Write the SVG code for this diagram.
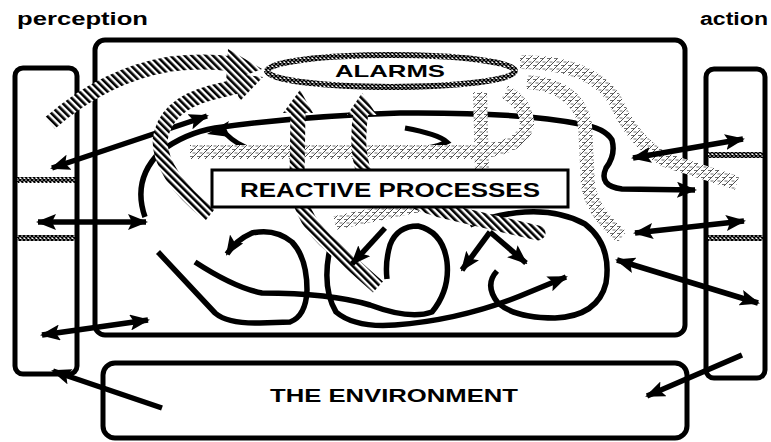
<svg xmlns="http://www.w3.org/2000/svg" width="771" height="442" viewBox="0 0 771 442">
<defs>
<style>
.box{fill:none;stroke:#000;stroke-width:5}
.blk{fill:none;stroke:#000;stroke-width:5.5}
.arr{fill:none;stroke:#000;stroke-width:5.5;marker-end:url(#ah)}
.darr{fill:none;stroke:#000;stroke-width:5.5;marker-start:url(#ah);marker-end:url(#ah)}
.str{fill:none;stroke:url(#stripes);stroke-width:15}
.sth{fill:url(#stripes)}
.hat{fill:none;stroke:url(#hatch);stroke-width:14}
.lbl{font-family:"Liberation Sans",Arial,sans-serif;font-weight:bold;fill:#000}
</style>
<pattern id="stripes" patternUnits="userSpaceOnUse" width="5" height="5" patternTransform="rotate(-45)">
<rect width="5" height="5" fill="#fff"/>
<rect width="2.6" height="5" fill="#000"/>
</pattern>
<pattern id="hatch" patternUnits="userSpaceOnUse" width="7" height="7">
<rect width="7" height="7" fill="#fff"/>
<path d="M0,7 L7,0 M-1,1 L1,-1 M6,8 L8,6" stroke="#222" stroke-width="0.8"/>
<path d="M1,2.5 L4,2.5 M3.5,6 L6.5,6" stroke="#333" stroke-width="0.7"/>
</pattern>
<pattern id="braid" patternUnits="userSpaceOnUse" width="4" height="4">
<rect width="4" height="4" fill="#fff"/>
<path d="M0,0 L4,4 M4,0 L0,4" stroke="#000" stroke-width="1.5"/>
</pattern>
<marker id="ah" viewBox="0 0 20 16" refX="18" refY="8" markerWidth="20" markerHeight="16" markerUnits="userSpaceOnUse" orient="auto-start-reverse">
<path d="M0,0 L20,8 L0,16 L4,8 z" fill="#000"/>
</marker>
</defs>

<text class="lbl" x="17" y="25" font-size="18" textLength="131" lengthAdjust="spacingAndGlyphs">perception</text>
<text class="lbl" x="700" y="25" font-size="18" textLength="68" lengthAdjust="spacingAndGlyphs">action</text>

<g id="perception">
<rect class="box" x="15" y="68" width="62" height="306" rx="8"/>
<rect x="17" y="177" width="58" height="6" fill="url(#braid)"/>
<rect x="17" y="235" width="58" height="6" fill="url(#braid)"/>
</g>
<g id="action">
<rect class="box" x="706" y="69" width="59" height="309" rx="8"/>
<rect x="708" y="152" width="55" height="6" fill="url(#braid)"/>
<rect x="708" y="235" width="55" height="6" fill="url(#braid)"/>
</g>
<g id="agent">
<rect class="box" x="95" y="40" width="590" height="295" rx="10"/>
</g>
<g id="environment">
<rect class="box" x="103" y="363" width="584" height="75" rx="12"/>
<text class="lbl" x="270" y="402" font-size="18" textLength="248" lengthAdjust="spacingAndGlyphs">THE ENVIRONMENT</text>
</g>

<g id="connectors">
<path class="blk" d="M145,217 Q132,180 160,152 Q185,133 215,128 Q300,116 400,113 Q520,112 580,124 Q605,128 612,140 Q616,155 606,168 Q598,186 622,189 L695,190" style="marker-end:url(#ah)"/>
<path fill="#000" d="M207,134 L229,121 L226,128 L230,137 z"/>
<path fill="none" stroke="#000" stroke-width="5" d="M405,128 Q438,134 447,142 Q430,150 400,150 Q320,152 253,150 Q237,145 226,134"/>
<path class="arr" d="M158,252 L215,313 Q228,324 260,323 L290,322 Q306,316 307,290 Q307,258 292,242 Q275,228 252,233 Q236,240 227,254"/>
<path class="blk" d="M195,262 Q235,288 262,293 Q330,293 370,305 Q410,320 432,312 Q450,290 447,262 Q443,232 418,226 Q397,226 390,245 Q385,262 387,279"/>
<path class="arr" d="M332,240 Q320,285 336,312 Q355,328 395,325 Q460,320 520,296 L566,277"/>
<path class="blk" d="M497,271 Q484,285 498,303 Q515,318 555,318 Q598,316 606,283 Q612,245 585,224 Q560,210 525,212 Q495,214 470,225"/>

<path class="darr" d="M52,168 L207,116"/>
<path class="darr" d="M38,222 L146,222"/>
<path class="darr" d="M42,335 L148,320"/>
<path class="arr" d="M162,408 L53,371"/>

<path class="hat" d="M190,152 L470,152 Q522,150 527,125 Q527,103 505,92"/>
<path class="hat" d="M480,92 L482,172"/>
<path class="hat" d="M520,62 Q590,62 615,100 Q632,140 665,160 L737,183"/>
<path class="hat" d="M527,82 Q578,86 585,125 L588,185 Q592,212 622,237"/>
<path class="hat" d="M335,223 L420,205"/>

<path class="str" d="M50,123 Q105,75 170,64 Q205,60 232,64"/>
<polygon class="sth" points="228,49 262,69 226,83"/>
<path class="str" d="M210,215 Q160,175 160,140 Q165,105 210,93 L238,86"/>
<polygon class="sth" points="230,73 263,77 240,101"/>
<path class="str" d="M378,287 L325,240 Q298,214 297,180 L298,110"/>
<polygon class="sth" points="283,113 300,90 313,113"/>
<path class="str" d="M361,112 Q355,150 365,175 Q390,195 440,210 L538,233" stroke-linecap="round"/>
<polygon class="sth" points="347,115 362,93 377,115"/>

<path class="arr" d="M385,228 L352,264"/>
<path class="arr" d="M490,232 L462,270"/>
<path class="arr" d="M490,232 L526,263"/>

<path class="darr" d="M633,158 L743,139"/>
<path class="darr" d="M635,233 L744,221"/>
<path class="darr" d="M617,260 L758,303"/>
<path class="arr" d="M742,355 L647,396"/>
</g>

<g id="reactive">
<rect x="212" y="170" width="356" height="37" fill="#fff" stroke="#000" stroke-width="3"/>
<text class="lbl" x="240" y="197" font-size="19.5" textLength="300" lengthAdjust="spacingAndGlyphs">REACTIVE PROCESSES</text>
</g>
<g id="alarms">
<ellipse cx="391" cy="71" rx="124" ry="16" fill="#fff" stroke="url(#braid)" stroke-width="6"/>
<text class="lbl" x="335" y="77" font-size="17" textLength="110" lengthAdjust="spacingAndGlyphs">ALARMS</text>
</g>
</svg>
